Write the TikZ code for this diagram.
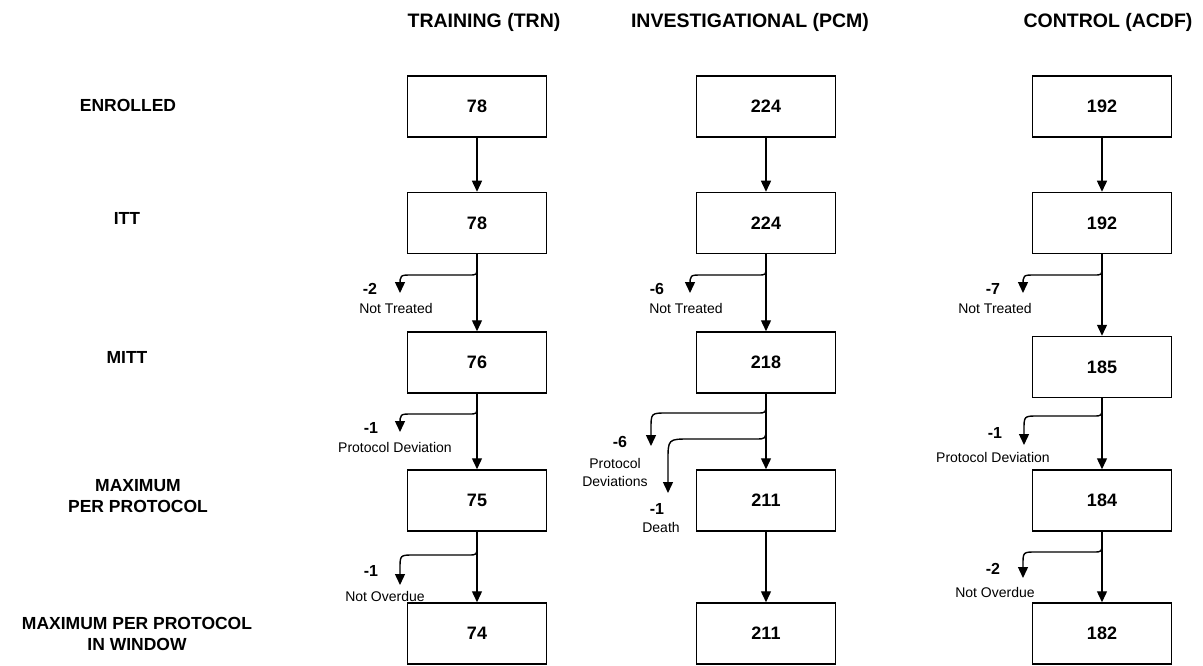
\documentclass[tikz,border=0pt]{standalone}
\usepackage{fontspec}
\setmainfont{Liberation Sans}
\usetikzlibrary{arrows.meta}
\begin{document}
\begin{tikzpicture}[x=1pt,y=-1pt,
  box/.style={draw, line width=1.5pt, minimum width=139pt, minimum height=61pt, inner sep=0pt, font=\fontsize{18}{20}\selectfont\bfseries},
  rowlab/.style={font=\fontsize{17.5}{21}\selectfont\bfseries, align=center},
  hdr/.style={font=\fontsize{19.5}{22}\selectfont\bfseries},
  num/.style={font=\fontsize{16}{18}\selectfont\bfseries},
  note/.style={font=\fontsize{14}{16}\selectfont, align=center},
  arr/.style={-{Triangle[width=10pt,length=11pt]}, line width=1.4pt}]
\useasboundingbox (0,0) rectangle (1203,666);
% headers
\node[hdr] (h1) at (484,22) {TRAINING (TRN)};
\node[hdr] (h2) at (750,22) {INVESTIGATIONAL (PCM)};
\node[hdr] (h3) at (1108,22) {CONTROL (ACDF)};
% row labels
\node[rowlab] (r1) at (128,105) {ENROLLED};
\node[rowlab] (r2) at (127,218) {ITT};
\node[rowlab] (r3) at (127,357) {MITT};
\node[rowlab] (r4) at (138,496) {MAXIMUM\\PER PROTOCOL};
\node[rowlab] (r5) at (137,634) {MAXIMUM PER PROTOCOL\\IN WINDOW};
% boxes TRN
\node[box] (a1) at (477,106.5) {78};
\node[box] (a2) at (477,223) {78};
\node[box] (a3) at (477,362.5) {76};
\node[box] (a4) at (477,500.5) {75};
\node[box] (a5) at (477,633.5) {74};
% boxes PCM
\node[box] (b1) at (766,106.5) {224};
\node[box] (b2) at (766,223) {224};
\node[box] (b3) at (766,362.5) {218};
\node[box] (b4) at (766,500.5) {211};
\node[box] (b5) at (766,633.5) {211};
% boxes ACDF
\node[box] (c1) at (1102,106.5) {192};
\node[box] (c2) at (1102,223) {192};
\node[box] (c3) at (1102,367) {185};
\node[box] (c4) at (1102,500.5) {184};
\node[box] (c5) at (1102,633.5) {182};
% main arrows
\foreach \c in {a,b,c}{
  \draw[arr] (\c1) -- (\c2);
  \draw[arr] (\c2) -- (\c3);
  \draw[arr] (\c3) -- (\c4);
  \draw[arr] (\c4) -- (\c5);
}
% branch end points
\coordinate (ta2) at (400,293);
\coordinate (ta3) at (400,432);
\coordinate (ta4) at (400,585);
\coordinate (tb2) at (690,293);
\coordinate (tb3) at (651,446);
\coordinate (tb3d) at (668,493);
\coordinate (tc2) at (1023,293);
\coordinate (tc3) at (1024,445);
\coordinate (tc4) at (1023,578);
% TRN branches
\draw[arr] (a2.south) -- (477,267) .. controls (477,275) .. (469,275) -- (412,275) .. controls (400,275) .. (400,286) -- (ta2);
\draw[arr] (a3.south) -- (477,406) .. controls (477,414) .. (469,414) -- (412,414) .. controls (400,414) .. (400,425) -- (ta3);
\draw[arr] (a4.south) -- (477,546) .. controls (477,555) .. (468,555) -- (414,555) .. controls (400,555) .. (400,569) -- (ta4);
% PCM branches
\draw[arr] (b2.south) -- (766,267) .. controls (766,275) .. (758,275) -- (702,275) .. controls (690,275) .. (690,286) -- (tb2);
\draw[arr] (b3.south) -- (766,404) .. controls (766,413) .. (757,413) -- (667,413) .. controls (651,413) .. (651,429) -- (tb3);
\draw[arr] (b3.south) -- (766,428) .. controls (766,439) .. (755,439) -- (690,439) .. controls (668,439) .. (668,461) -- (tb3d);
% ACDF branches
\draw[arr] (c2.south) -- (1102,267) .. controls (1102,275) .. (1094,275) -- (1035,275) .. controls (1023,275) .. (1023,286) -- (tc2);
\draw[arr] (c3.south) -- (1102,407) .. controls (1102,416) .. (1093,416) -- (1038,416) .. controls (1024,416) .. (1024,430) -- (tc3);
\draw[arr] (c4.south) -- (1102,543) .. controls (1102,552) .. (1093,552) -- (1036,552) .. controls (1023,552) .. (1023,565) -- (tc4);
% branch labels
\node[num] (na2) at (370,289) {-2};
\node[note] (la2) at (396,308) {Not Treated};
\node[num] (na3) at (371,428) {-1};
\node[note] (la3) at (395,447) {Protocol Deviation};
\node[num] (na4) at (371,571) {-1};
\node[note] (la4) at (385,596) {Not Overdue};
\node[num] (nb2) at (657,289) {-6};
\node[note] (lb2) at (686,308) {Not Treated};
\node[num] (nb3) at (620,442) {-6};
\node[note] (lb3) at (615,472) {Protocol\\[2pt]Deviations};
\node[num] (nb3d) at (657,509) {-1};
\node[note] (lb3d) at (661,527) {Death};
\node[num] (nc2) at (993,289) {-7};
\node[note] (lc2) at (995,308) {Not Treated};
\node[num] (nc3) at (995,433) {-1};
\node[note] (lc3) at (993,457) {Protocol Deviation};
\node[num] (nc4) at (993,569) {-2};
\node[note] (lc4) at (995,592) {Not Overdue};
\end{tikzpicture}
\end{document}
